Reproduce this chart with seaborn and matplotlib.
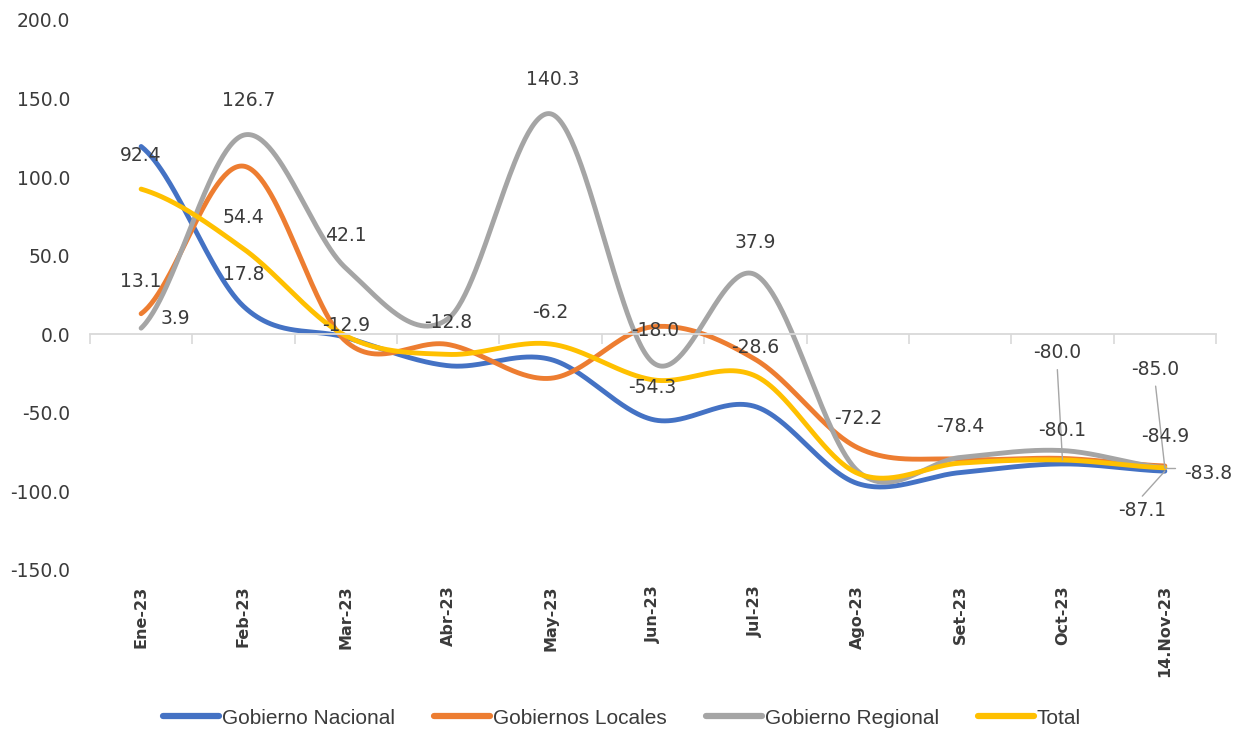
import numpy as np
import pandas as pd
import matplotlib
matplotlib.use("Agg")
import matplotlib.pyplot as plt
import seaborn as sns

# ---------------- data ----------------
categories = ["Ene-23", "Feb-23", "Mar-23", "Abr-23", "May-23", "Jun-23",
              "Jul-23", "Ago-23", "Set-23", "Oct-23", "14.Nov-23"]
series_names = ["Gobierno Nacional", "Gobiernos Locales", "Gobierno Regional", "Total"]
nacional = [119.5, 17.8, -2.0, -20.0, -16.0, -54.3, -46.0, -95.0, -88.0, -82.5, -87.1]
locales = [13.1, 107.0, -4.5, -6.5, -28.0, 4.8, -16.0, -72.2, -79.5, -79.0, -83.8]
regional = [3.9, 126.7, 42.1, 10.0, 140.3, -18.0, 37.9, -87.0, -78.4, -74.0, -84.9]
total = [92.4, 54.4, -1.0, -12.8, -6.2, -29.0, -26.5, -88.5, -82.0, -80.0, -85.0]

# data labels as printed on the chart
label_texts = ["92.4", "13.1", "3.9", "126.7", "54.4", "17.8", "42.1", "-12.9",
               "-12.8", "140.3", "-6.2", "-18.0", "-54.3", "37.9", "-28.6",
               "-72.2", "-78.4", "-80.0", "-80.1", "-85.0", "-84.9", "-83.8", "-87.1"]
# label placement (category units, value units)
label_x = [0.0, 0.0, 0.33, 1.05, 1.0, 1.0, 2.0, 2.0,
           3.0, 4.02, 4.0, 5.02, 4.99, 6.0, 6.0,
           7.0, 8.0, 8.95, 9.0, 9.91, 10.0, 10.42, 9.78]
label_y = [114, 33.5, 10, 148.6, 74.4, 38, 63, 5.4,
           7.3, 162, 13.7, 2.2, -34, 58.5, -8.6,
           -53.4, -58.5, -11.8, -61, -22.7, -65, -88.5, -112]
# leader lines: (label-side x, label-side y, category index, series value)
leaders = [(8.95, -22.5, 9, total[9]),
           (9.91, -33.0, 10, total[10]),
           (10.10, -85.0, 10, total[10]),
           (9.78, -103.0, 10, nacional[10])]

colors = ["#4472C4", "#ED7D31", "#A5A5A5", "#FFC000"]
values = [nacional, locales, regional, total]


def smooth(vals, n=60):
    """Excel-like smoothed line (Catmull-Rom through the points)."""
    p = np.asarray(vals, dtype=float)
    k = len(p)
    xs, ys = [], []
    for i in range(k - 1):
        p0 = p[i - 1] if i > 0 else p[i]
        p3 = p[i + 2] if i + 2 < k else p[i + 1]
        m1 = (p[i + 1] - p0) / 2.0
        m2 = (p3 - p[i]) / 2.0
        t = np.linspace(0, 1, n, endpoint=(i == k - 2))
        h00 = 2 * t**3 - 3 * t**2 + 1
        h10 = t**3 - 2 * t**2 + t
        h01 = -2 * t**3 + 3 * t**2
        h11 = t**3 - t**2
        xs.append(i + t)
        ys.append(h00 * p[i] + h10 * m1 + h01 * p[i + 1] + h11 * m2)
    return np.concatenate(xs), np.concatenate(ys)


frames = []
for name, v in zip(series_names, values):
    sx, sy = smooth(v)
    frames.append(pd.DataFrame({"x": sx, "y": sy, "serie": name}))
df = pd.concat(frames, ignore_index=True)

# ---------------- style ----------------
sns.set_theme(style="white")
plt.rcParams["font.family"] = ["DejaVu Sans"]
text_color = "#3b3b3b"

fig = plt.figure(figsize=(12.49, 7.35), dpi=100)
ax = fig.add_axes([0.072, 0.2245, 0.9016, 0.7483])

sns.lineplot(data=df, x="x", y="y", hue="serie", palette=colors,
             hue_order=series_names, estimator=None, sort=False,
             linewidth=3.5, ax=ax, legend=True)

ax.set_xlim(-0.5, 10.5)
ax.set_ylim(-150, 200)
ax.set_yticks(np.arange(-150, 201, 50))
ax.set_yticklabels([f"{v:.1f}" for v in np.arange(-150, 201, 50)],
                   fontsize=13.5, color=text_color)
ax.tick_params(axis="y", length=0, pad=14)
ax.set_xlabel("")
ax.set_ylabel("")
ax.grid(False)
for s in ["left", "right", "top"]:
    ax.spines[s].set_visible(False)

# category axis line at zero, tick marks between categories
ax.spines["bottom"].set_position(("data", 0))
ax.spines["bottom"].set_color("#D9D9D9")
ax.spines["bottom"].set_linewidth(1.3)
ax.set_xticks(np.arange(-0.5, 11, 1))
ax.set_xticklabels([])
ax.tick_params(axis="x", bottom=True, length=7, width=1.2, color="#D9D9D9",
               direction="out")

sec = ax.secondary_xaxis("bottom")
sec.set_xticks(range(len(categories)))
sec.set_xticklabels(categories, rotation=90, fontsize=11.5, fontweight="bold",
                    color=text_color, va="top")
sec.tick_params(length=0, pad=11)
sec.spines["bottom"].set_visible(False)

# leader lines
for lx, ly, ci, cv in leaders:
    ax.plot([lx, ci], [ly, cv], color="#A6A6A6", linewidth=1.0, zorder=5)

# data labels
for t, lx, ly in zip(label_texts, label_x, label_y):
    ax.text(lx, ly, t, ha="center", va="center", fontsize=13.5,
            color=text_color, zorder=6)

# legend
handles, labels = ax.get_legend_handles_labels()
ax.legend_.remove()
for h in handles:
    h.set_linewidth(4.5)
fig.legend(handles, labels, loc="center", bbox_to_anchor=(0.498, 0.023),
           ncol=4, frameon=False, handlelength=2.7, handletextpad=0.15,
           columnspacing=1.85, prop={"family": ["Liberation Sans", "DejaVu Sans"], "size": 15},
           labelcolor=text_color)

fig.savefig("out.png", dpi=100)
